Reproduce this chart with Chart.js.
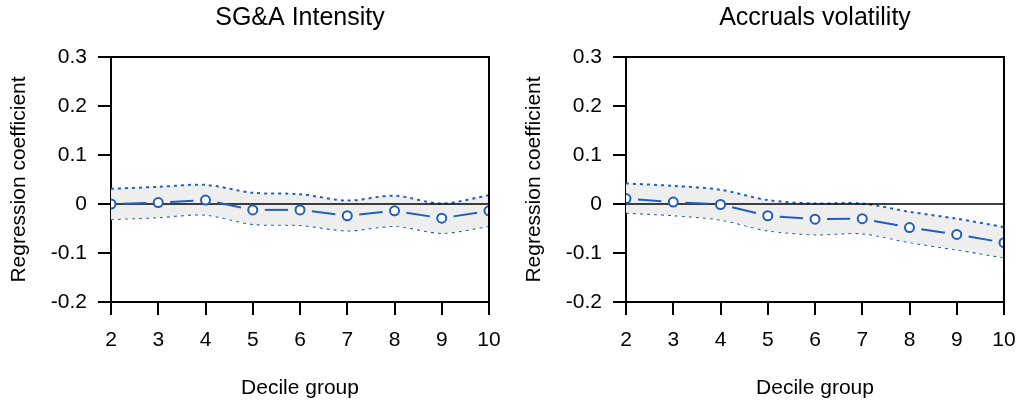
<!DOCTYPE html>
<html>
<head>
<meta charset="utf-8">
<script src="https://cdn.jsdelivr.net/npm/chart.js@4/dist/chart.umd.min.js"></script>
<style>
  html, body { margin: 0; padding: 0; background: #ffffff; }
  body { width: 1019px; height: 402px; position: relative; overflow: hidden; }
  .wrap { position: absolute; top: 0; height: 402px; }
</style>
</head>
<body>
<div class="wrap" style="left:0px;width:509px;"><canvas id="c1"></canvas></div>
<div class="wrap" style="left:515px;width:504px;"><canvas id="c2"></canvas></div>
<script>
// ---- data ----
const deciles = [2, 3, 4, 5, 6, 7, 8, 9, 10];

const sgaTitle = 'SG&A Intensity';
const sgaCoef  = [0.000, 0.003, 0.008, -0.012, -0.012, -0.024, -0.014, -0.029, -0.014];
const sgaUpper = [0.031, 0.035, 0.039, 0.023, 0.020, 0.007, 0.017, 0.001, 0.018];
const sgaLower = [-0.031, -0.027, -0.022, -0.041, -0.043, -0.054, -0.045, -0.059, -0.045];

const accTitle = 'Accruals volatility';
const accCoef  = [0.011, 0.004, -0.001, -0.024, -0.031, -0.030, -0.048, -0.062, -0.079];
const accUpper = [0.042, 0.037, 0.029, 0.008, 0.001, 0.001, -0.016, -0.030, -0.047];
const accLower = [-0.018, -0.023, -0.032, -0.054, -0.062, -0.060, -0.078, -0.093, -0.109];

const yTickLabels = ['-0.2', '-0.1', '0', '0.1', '0.2', '0.3'];
const xTickLabels = ['2', '3', '4', '5', '6', '7', '8', '9', '10'];
const xAxisTitle = 'Decile group';
const yAxisTitle = 'Regression coefficient';

// ---- styling ----
Chart.defaults.font.family = '"Liberation Sans", Arial, Helvetica, sans-serif';
Chart.defaults.color = '#000000';

const BLUE = '#1f5fc0';
const BAND = '#eeeeee';

function pts(ys) { return deciles.map((x, i) => ({ x: x, y: ys[i] })); }

const framePlugin = {
  id: 'frame',
  beforeDatasetDraw(chart, args) {
    // zero reference line, drawn over the band but below the coefficient line
    if (args.index !== 0) return;
    const ctx = chart.ctx, a = chart.chartArea, y0 = chart.scales.y.getPixelForValue(0);
    ctx.save();
    ctx.strokeStyle = '#000000';
    ctx.lineWidth = 1.6;
    ctx.beginPath();
    ctx.moveTo(a.left, y0);
    ctx.lineTo(a.right, y0);
    ctx.stroke();
    ctx.restore();
  },
  afterDraw(chart) {
    const ctx = chart.ctx, a = chart.chartArea;
    ctx.save();
    ctx.strokeStyle = '#000000';
    ctx.lineWidth = 2;
    ctx.beginPath();
    ctx.moveTo(a.left - 13, a.top);
    ctx.lineTo(a.right, a.top);
    ctx.lineTo(a.right, a.bottom + 13);
    ctx.stroke();
    ctx.restore();
  }
};

function makeChart(id, title, coef, upper, lower, padRight) {
  const GAP = 12;
  return new Chart(document.getElementById(id), {
    type: 'line',
    data: {
      datasets: [
        {
          data: pts(coef),
          borderColor: BLUE,
          borderWidth: 2,
          pointStyle: 'circle',
          pointRadius: 4.5,
          pointBorderWidth: 2,
          pointBorderColor: BLUE,
          pointBackgroundColor: '#ffffff',
          fill: false,
          tension: 0,
          segment: {
            borderDash: c => {
              const L = Math.hypot(c.p1.x - c.p0.x, c.p1.y - c.p0.y);
              return [0, GAP, Math.max(L - 2 * GAP, 0), GAP];
            }
          }
        },
        {
          data: pts(upper),
          borderColor: BLUE,
          borderWidth: 2,
          borderDash: [3, 4],
          pointRadius: 0,
          tension: 0.3,
          fill: '+1',
          backgroundColor: BAND
        },
        {
          data: pts(lower),
          borderColor: BLUE,
          borderWidth: 2,
          borderDash: [3, 4],
          pointRadius: 0,
          tension: 0.3,
          fill: false
        }
      ]
    },
    options: {
      responsive: true,
      maintainAspectRatio: false,
      animation: false,
      events: [],
      layout: { padding: { left: 0, right: padRight, top: 0, bottom: 0 } },
      plugins: {
        legend: { display: false },
        tooltip: { enabled: false },
        title: {
          display: true,
          text: title,
          fullSize: false,
          font: { size: 25, weight: 'normal' },
          color: '#000000',
          padding: { top: 3, bottom: 24 }
        }
      },
      scales: {
        x: {
          type: 'linear',
          min: 2,
          max: 10,
          afterFit: s => { s.height = 100; s.paddingLeft = 0; s.paddingRight = 0; },
          afterBuildTicks: s => { s.ticks = deciles.map(v => ({ value: v })); },
          ticks: {
            callback: (v, i) => xTickLabels[i],
            font: { size: 21 },
            color: '#000000',
            padding: 13,
            maxRotation: 0,
            autoSkip: false
          },
          grid: {
            drawOnChartArea: false,
            drawTicks: true,
            tickLength: 13,
            color: '#000000',
            lineWidth: 2
          },
          border: { display: true, color: '#000000', width: 2 },
          title: {
            display: true,
            text: xAxisTitle,
            font: { size: 21 },
            color: '#000000',
            padding: { top: 0, bottom: 1 }
          }
        },
        y: {
          type: 'linear',
          min: -0.2,
          max: 0.3,
          afterFit: s => { s.width = 111; },
          ticks: {
            stepSize: 0.1,
            callback: (v, i) => yTickLabels[i],
            font: { size: 21 },
            color: '#000000',
            padding: 11
          },
          grid: {
            drawOnChartArea: false,
            drawTicks: true,
            tickLength: 13,
            color: '#000000',
            lineWidth: 2
          },
          border: { display: true, color: '#000000', width: 2 },
          title: {
            display: true,
            text: yAxisTitle,
            font: { size: 21 },
            color: '#000000',
            padding: { top: 7, bottom: 0 }
          }
        }
      }
    },
    plugins: [framePlugin]
  });
}

makeChart('c1', sgaTitle, sgaCoef, sgaUpper, sgaLower, 20);
makeChart('c2', accTitle, accCoef, accUpper, accLower, 15);
</script>
</body>
</html>
